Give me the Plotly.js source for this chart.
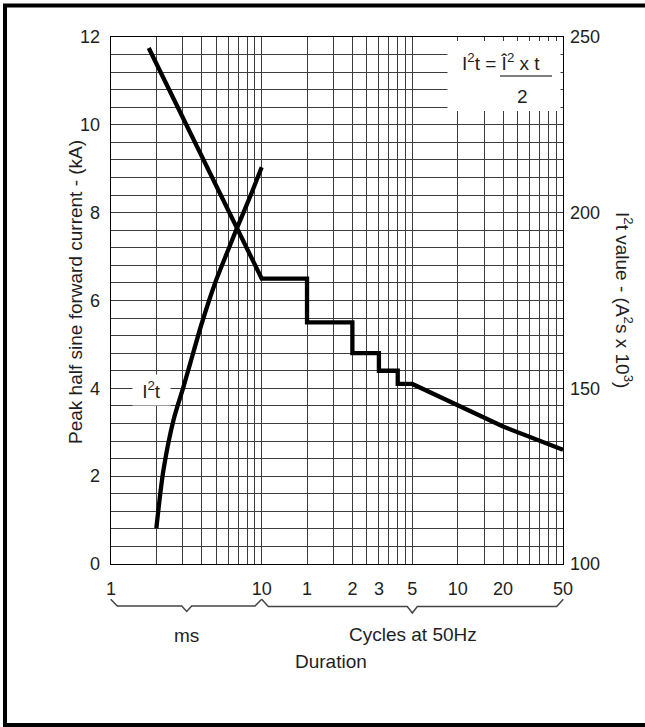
<!DOCTYPE html>
<html><head><meta charset="utf-8">
<script src="https://cdn.plot.ly/plotly-3.0.1.min.js"></script>
<style>html,body{margin:0;padding:0;background:#fff;}#chart{width:645px;height:727px;}</style>
</head><body><div id="chart"></div>
<script>
// Peak half sine forward current (kA) vs duration (ms)
const currentDurationMs = [1.78, 10, 20, 20, 40, 40, 60, 60, 80, 80, 100, 200, 400, 1000];
const peakCurrentKA    = [11.75, 6.5, 6.5, 5.5, 5.5, 4.8, 4.8, 4.4, 4.4, 4.1, 4.1, 3.62, 3.13, 2.6];
// I2t value (A2s x 10^3) vs duration (ms)
const i2tDurationMs = [2.0, 2.23, 2.6, 3.03, 3.36, 4.01, 4.91, 5.88, 6.85, 8.39, 10.0];
const i2tValue      = [110.2, 126.8, 141.0, 150.5, 157.2, 168.6, 180.0, 188.5, 195.6, 204.6, 212.9];
// Axes
const xTickVals = [1, 10, 20, 40, 60, 100, 200, 400, 1000];
const xTickText = ['1', '10', '1', '2', '3', '5', '10', '20', '50'];
const xGridVals = [2, 3, 4, 5, 6, 7, 8, 9, 30, 50, 70, 80, 90, 300, 500, 600, 700, 800, 900];
const yLeftTicks = [0, 2, 4, 6, 8, 10, 12];
const yRightTicks = [100, 150, 200, 250];

const W = 645, H = 727, ML = 111, MR = 82, MT = 37, MB = 163;
const PW = W - ML - MR, PH = H - MT - MB;
const px = v => (v - ML) / PW;          // pixel x -> paper
const py = v => (H - MB - v) / PH;      // pixel y -> paper

const FONT = 'Liberation Sans, Arial, Helvetica, sans-serif';
const TXT = '#1e1e1e';
const GRID = '#3c3c3c';

const traces = [
  {x: currentDurationMs, y: peakCurrentKA, type: 'scatter', mode: 'lines',
   line: {color: '#000', width: 4.3}, yaxis: 'y', hoverinfo: 'skip', showlegend: false},
  {x: i2tDurationMs, y: i2tValue, type: 'scatter', mode: 'lines',
   line: {color: '#000', width: 4.3, shape: 'spline', smoothing: 0.8}, yaxis: 'y2', hoverinfo: 'skip', showlegend: false}
];

function pathOf(pts) {
  return pts.map((p, i) => (i ? 'L' : 'M') + px(p[0]).toFixed(4) + ',' + py(p[1]).toFixed(4)).join(' ');
}

const shapes = [
  // formula box (covers grid)
  {type: 'rect', xref: 'paper', yref: 'paper', x0: px(447.5), x1: px(560.5), y0: py(111), y1: py(41),
   fillcolor: '#ffffff', opacity: 1, line: {width: 0}, layer: 'above'},
  // fraction bar
  {type: 'line', xref: 'paper', yref: 'paper', x0: px(500), x1: px(552), y0: py(76), y1: py(76),
   line: {color: '#555', width: 1.6}, layer: 'above'},
  // braces
  {type: 'path', xref: 'paper', yref: 'paper',
   path: pathOf([[110.7,599.3],[117.3,606],[181.7,606],[186.7,611.5],[191.7,606],[255,606],[261.7,599.3]]),
   line: {color: '#444', width: 1.5}},
  {type: 'path', xref: 'paper', yref: 'paper',
   path: pathOf([[261.7,599.3],[268.3,606.5],[407.3,606.5],[412.3,613],[417.3,606.5],[556.7,606.5],[563.3,599.3]]),
   line: {color: '#444', width: 1.5}},
  // outer frame (left, top, bottom)
  {type: 'path', xref: 'paper', yref: 'paper',
   path: pathOf([[650,5.5],[5,5.5],[5,725],[650,725]]),
   line: {color: '#000', width: 4}}
];

const ann = (x, y, text, opts) => Object.assign({xref: 'paper', yref: 'paper', x: px(x), y: py(y),
  text: text, showarrow: false, xanchor: 'center', yanchor: 'middle',
  font: {family: FONT, size: 19, color: TXT}}, opts || {});

const annotations = [
  ann(75, 292, 'Peak half sine forward current - (kA)', {textangle: -90}),
  ann(624, 300, 'I<sup>2</sup>t value - (A<sup>2</sup>s x 10<sup>3</sup>)', {textangle: 90}),
  ann(186, 635, 'ms'),
  ann(412.5, 634, 'Cycles at 50Hz'),
  ann(331, 661, 'Duration'),
  ann(151, 390, 'I<sup>2</sup>t', {bgcolor: '#fff', width: 35, height: 28}),
  ann(501, 62, 'I<sup>2</sup>t = Î<sup>2</sup> x t'),
  ann(522, 96.5, '2')
];

const layout = {
  width: W, height: H,
  margin: {l: ML, r: MR, t: MT, b: MB, pad: 0},
  paper_bgcolor: '#fff', plot_bgcolor: '#fff',
  font: {family: FONT, size: 18, color: TXT},
  showlegend: false,
  xaxis: {
    type: 'log', range: [0, 3], fixedrange: true,
    tickmode: 'array', tickvals: xTickVals, ticktext: xTickText,
    ticks: '', ticklabelstandoff: 8,
    showgrid: true, gridcolor: GRID, gridwidth: 1,
    minor: {tickmode: 'array', tickvals: xGridVals, showgrid: true, gridcolor: GRID, gridwidth: 1, ticks: ''},
    showline: true, mirror: true, linecolor: '#000', linewidth: 1.3,
    zeroline: false, tickfont: {family: FONT, size: 18, color: TXT}
  },
  yaxis: {
    range: [0, 12], fixedrange: true,
    tickmode: 'array', tickvals: yLeftTicks, ticks: '', ticklabelstandoff: 6,
    showgrid: true, gridcolor: GRID, gridwidth: 1,
    minor: {dtick: 0.4, tick0: 0, showgrid: true, gridcolor: GRID, gridwidth: 1, ticks: ''},
    showline: true, mirror: true, linecolor: '#000', linewidth: 1.3,
    zeroline: false, tickfont: {family: FONT, size: 18, color: TXT}
  },
  yaxis2: {
    range: [100, 250], overlaying: 'y', side: 'right', fixedrange: true,
    tickmode: 'array', tickvals: yRightTicks, ticks: '', ticklabelstandoff: 6,
    showgrid: false, zeroline: false, showline: false,
    tickfont: {family: FONT, size: 18, color: TXT}
  },
  shapes: shapes,
  annotations: annotations
};

Plotly.newPlot('chart', traces, layout, {staticPlot: true, displayModeBar: false});
</script>
</body></html>
